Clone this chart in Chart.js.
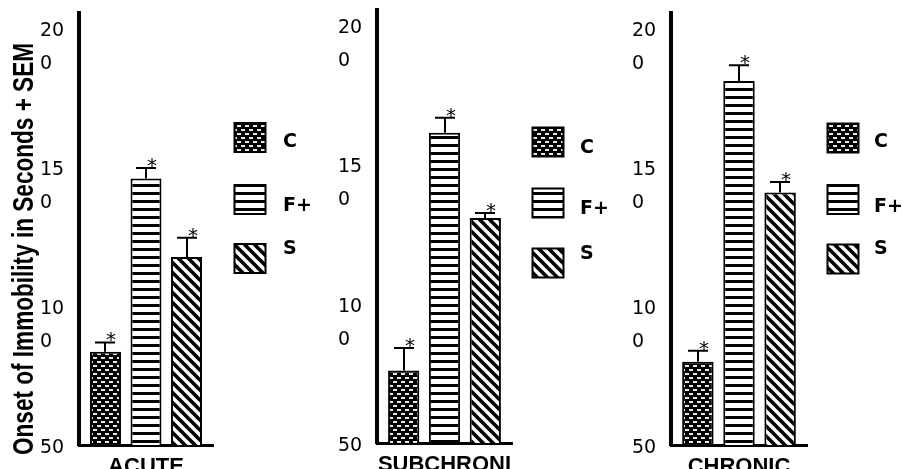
<!DOCTYPE html>
<html>
<head>
<meta charset="utf-8">
<script src="https://cdn.jsdelivr.net/npm/chart.js@4.4.1/dist/chart.umd.min.js"></script>
<style>
  html, body { margin: 0; padding: 0; background: #fff; }
  #wrap { position: relative; width: 902px; height: 469px; overflow: hidden; background: #fff; }
  canvas { position: absolute; top: 0; }
</style>
</head>
<body>
<div id="wrap">
  <canvas id="c1" width="330" height="469" style="left:0px"></canvas>
  <canvas id="c2" width="330" height="469" style="left:300px"></canvas>
  <canvas id="c3" width="302" height="469" style="left:600px"></canvas>
</div>
<script>
// ---------- DATA ----------
const seriesNames = ["C", "F+", "S"];
const panelCategories = ["ACUTE", "SUBCHRONI", "CHRONIC"];
const acuteValues = [83.6, 145.9, 117.7];
const acuteSEM = [3.3, 3.8, 6.9];
const subchronicValues = [76.0, 161.4, 130.8];
const subchronicSEM = [8.1, 5.4, 1.8];
const chronicValues = [80.0, 181.0, 140.9];
const chronicSEM = [3.9, 5.7, 3.8];
const yTickValues = [50, 100, 150, 200];
const yTickLabels = ["50", "100", "150", "200"];
const yAxisTitle = "Onset of Immobility in Seconds + SEM";
const significance = ["*", "*", "*"];

// ---------- PATTERNS ----------
function makePattern(type) {
  const c = document.createElement('canvas');
  const x = c.getContext('2d');
  if (type === 'dots') {
    c.width = 8; c.height = 8;
    x.fillStyle = '#000'; x.fillRect(0, 0, 8, 8);
    x.fillStyle = '#e6e6e6';
    x.fillRect(1, 1, 4, 2);
    x.fillRect(5, 5, 3, 2);
    x.fillRect(0, 5, 1, 2);
  } else if (type === 'hlines') {
    c.width = 8; c.height = 8;
    x.fillStyle = '#fff'; x.fillRect(0, 0, 8, 8);
    x.fillStyle = '#000'; x.fillRect(0, 0, 8, 3);
  } else {
    c.width = 10; c.height = 10;
    x.fillStyle = '#fff'; x.fillRect(0, 0, 10, 10);
    x.strokeStyle = '#000'; x.lineWidth = 3.6;
    for (let k = -2; k <= 2; k++) {
      x.beginPath();
      x.moveTo(-5, -5 + k * 10);
      x.lineTo(15, 15 + k * 10);
      x.stroke();
    }
  }
  return x.createPattern(c, 'repeat');
}
const patterns = [makePattern('dots'), makePattern('hlines'), makePattern('diag')];

// ---------- PLUGINS ----------
const errorBarPlugin = {
  id: 'errorBars',
  afterDatasetsDraw(chart) {
    const ctx = chart.ctx;
    const y = chart.scales.y;
    ctx.save();
    chart.data.datasets.forEach((ds, i) => {
      const bar = chart.getDatasetMeta(i).data[0];
      const top = y.getPixelForValue(ds.data[0] + ds.sem[0]);
      const bx = Math.round(bar.x);
      ctx.strokeStyle = '#000';
      ctx.lineWidth = 2;
      ctx.beginPath();
      ctx.moveTo(bx, bar.y);
      ctx.lineTo(bx, top);
      ctx.moveTo(bx - 10, top);
      ctx.lineTo(bx + 10, top);
      ctx.stroke();
      ctx.fillStyle = '#000';
      ctx.font = '20px "DejaVu Sans"';
      ctx.textAlign = 'center';
      ctx.textBaseline = 'alphabetic';
      ctx.fillText(significance[i], bx + 6, top + 4);
    });
    ctx.restore();
  }
};

const legendPlugin = {
  id: 'customLegend',
  afterDraw(chart, args, opts) {
    if (!opts || !opts.items) return;
    const ctx = chart.ctx;
    ctx.save();
    opts.items.forEach((it, i) => {
      ctx.fillStyle = patterns[i];
      ctx.fillRect(opts.boxX, it.boxY, 31, 29);
      ctx.strokeStyle = '#000';
      ctx.lineWidth = 2;
      ctx.strokeRect(opts.boxX, it.boxY, 31, 29);
      ctx.fillStyle = '#000';
      ctx.font = 'bold 19px "DejaVu Sans"';
      ctx.textAlign = 'left';
      ctx.textBaseline = 'middle';
      ctx.fillText(seriesNames[i], opts.textX, it.textY);
    });
    ctx.restore();
  }
};

const yTitlePlugin = {
  id: 'yTitle',
  afterDraw(chart, args, opts) {
    if (!opts || !opts.show) return;
    const ctx = chart.ctx;
    ctx.save();
    ctx.font = 'bold 29px "Liberation Sans"';
    const w = ctx.measureText(yAxisTitle).width;
    ctx.translate(33, 249);
    ctx.rotate(-Math.PI / 2);
    ctx.scale(412 / w, 1);
    ctx.fillStyle = '#000';
    ctx.textAlign = 'center';
    ctx.textBaseline = 'alphabetic';
    ctx.fillText(yAxisTitle, 0, 0);
    ctx.restore();
  }
};

// ---------- CHART BUILDER ----------
function makePanel(id, category, values, sems, pad, legendOpts, showTitle, bottom) {
  const datasets = seriesNames.map((name, i) => ({
    label: name,
    data: [values[i]],
    sem: [sems[i]],
    backgroundColor: patterns[i],
    borderColor: '#000',
    borderWidth: 2,
    borderSkipped: false,
    categoryPercentage: 0.907,
    barPercentage: 0.765
  }));
  return new Chart(document.getElementById(id), {
    type: 'bar',
    data: { labels: [category], datasets },
    options: {
      responsive: false,
      animation: false,
      devicePixelRatio: 1,
      layout: { padding: { left: pad.left, right: pad.right, top: pad.top, bottom: 0 } },
      plugins: {
        legend: { display: false },
        tooltip: { enabled: false },
        customLegend: legendOpts,
        yTitle: { show: showTitle }
      },
      scales: {
        x: {
          grid: { display: false, drawTicks: false },
          border: { display: true, color: '#000', width: 3 },
          ticks: {
            color: '#000',
            font: { family: '"Liberation Sans"', size: 22, weight: 'bold', lineHeight: 1 },
            padding: 11, maxRotation: 0, minRotation: 0, autoSkip: false
          },
          afterFit(s) { s.height = bottom; s.paddingLeft = 0; s.paddingRight = 0; }
        },
        y: {
          min: 50, max: 205.5,
          grid: { display: false, drawTicks: false },
          border: { display: true, color: '#000', width: 4 },
          afterBuildTicks(s) { s.ticks = yTickValues.map(v => ({ value: v })); },
          ticks: {
            color: '#000',
            crossAlign: 'far',
            labelOffset: 3,
            font: { family: '"DejaVu Sans"', size: 19, lineHeight: '33px' },
            callback(value) {
              const lab = yTickLabels[yTickValues.indexOf(value)];
              return lab.length > 2 ? ['', lab.slice(0, 2), lab.slice(2)] : lab;
            }
          },
          afterFit(s) { s.width = 39; s.paddingTop = 0; s.paddingBottom = 0; }
        }
      }
    },
    plugins: [errorBarPlugin, legendPlugin, yTitlePlugin]
  });
}

makePanel('c1', panelCategories[0], acuteValues, acuteSEM,
  { left: 40, right: 117, top: 13 },
  { boxX: 234.5, textX: 283, items: [ { boxY: 123, textY: 142 }, { boxY: 185, textY: 206 }, { boxY: 244, textY: 249 } ] },
  true, 24);
makePanel('c2', panelCategories[1], subchronicValues, subchronicSEM,
  { left: 38, right: 118, top: 10 },
  { boxX: 232.5, textX: 280, items: [ { boxY: 127.5, textY: 148.5 }, { boxY: 188.5, textY: 209 }, { boxY: 248.5, textY: 254 } ] },
  false, 26);
makePanel('c3', panelCategories[2], chronicValues, chronicSEM,
  { left: 32, right: 95, top: 13 },
  { boxX: 227.5, textX: 274, items: [ { boxY: 123.5, textY: 142 }, { boxY: 185, textY: 207 }, { boxY: 244.5, textY: 249 } ] },
  false, 24);
</script>
</body>
</html>
